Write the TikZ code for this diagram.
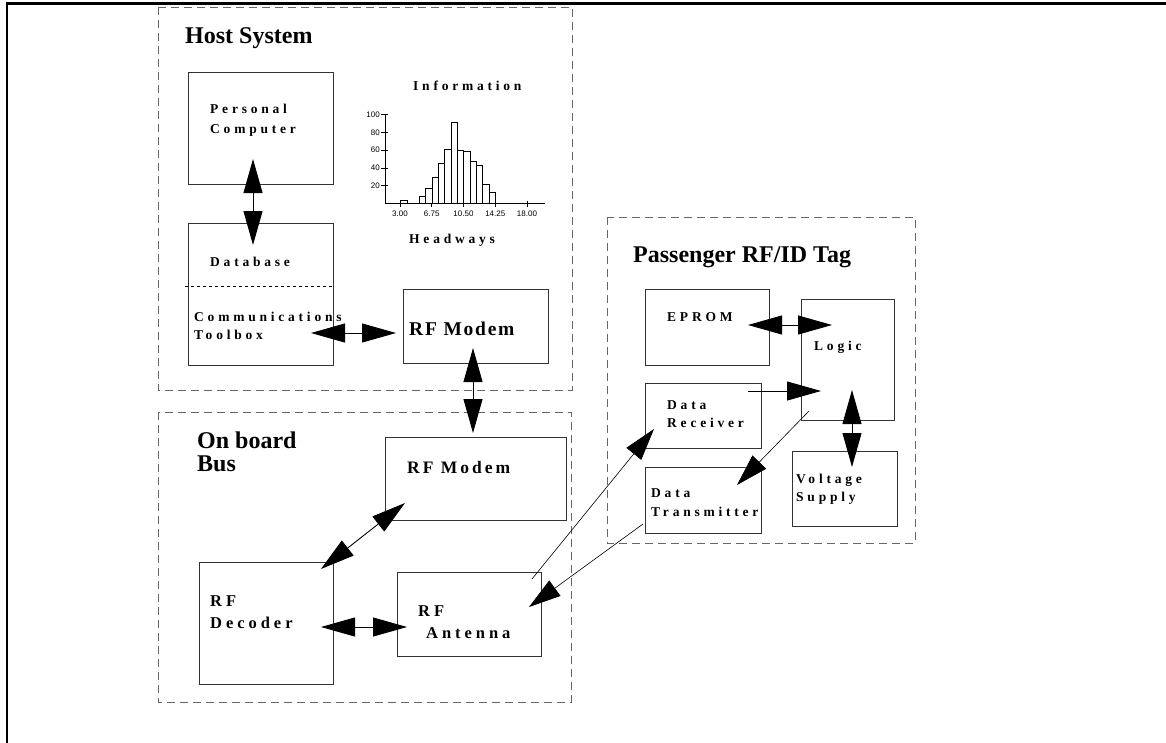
\documentclass[tikz,border=0pt]{standalone}
\usepackage{fontspec}
\setmainfont{Liberation Serif}
\newfontfamily\axisfont{Liberation Sans}
\usetikzlibrary{arrows.meta,calc}
\tikzset{
  outerframe/.style={line width=2.5pt, line cap=rect},
  group/.style={draw=black!60, dash pattern=on 8pt off 5pt, line width=0.9pt},
  blk/.style={draw=black!80, line width=0.9pt, inner sep=0pt, anchor=north west},
  bigtitle/.style={font=\fontsize{24}{22}\selectfont\bfseries, anchor=base west, inner sep=0pt},
  lbl/.style={font=\fontsize{13.5}{18}\selectfont\bfseries\addfontfeature{LetterSpace=28}, anchor=base west, inner sep=0pt},
  midlbl/.style={font=\fontsize{16.5}{20}\selectfont\bfseries\addfontfeature{LetterSpace=24}, anchor=base west, inner sep=0pt},
  modemlbl/.style={font=\fontsize{19.5}{22}\selectfont\bfseries\addfontfeature{LetterSpace=9}, anchor=base west, inner sep=0pt},
  modemlbltwo/.style={font=\fontsize{17.5}{22}\selectfont\bfseries\addfontfeature{LetterSpace=17}, anchor=base west, inner sep=0pt},
  tinylbl/.style={font=\axisfont\fontsize{8}{9}\selectfont, inner sep=0pt},
  dbl/.style={line width=0.9pt, {Triangle[length=34pt,width=19pt]}-{Triangle[length=34pt,width=19pt]}},
  sgl/.style={line width=0.9pt, -{Triangle[length=34pt,width=19pt]}},
  thinsgl/.style={line width=0.6pt, -{Triangle[length=32pt,width=19pt]}},
  bar/.style={draw=black, line width=0.8pt, fill=white},
}
\begin{document}
\begin{tikzpicture}[x=1pt,y=-1pt]
\useasboundingbox (0,0) rectangle (1166,742);
% outer frame (top and left)
\draw[outerframe] (1166,3.5) -- (7,3.5) -- (7,742);

% group boxes
\draw[group] (158,7) rectangle (572,390);
\draw[group] (158,412) rectangle (571,702);
\draw[group] (607,217) rectangle (915,543);

\node[bigtitle] (thost) at (185,43) {Host System};
\node[bigtitle] (tbus1) at (197,448) {On board};
\node[bigtitle] (tbus2) at (197,471) {Bus};
\node[bigtitle] (ttag) at (633,262) {Passenger RF/ID Tag};

% blocks
\node[blk, minimum width=145pt, minimum height=112pt] (pc) at (188,72) {};
\node[blk, minimum width=145pt, minimum height=142pt] (db) at (188,223) {};
\node[blk, minimum width=145pt, minimum height=74pt] (hmodem) at (403,289) {};
\node[blk, minimum width=181pt, minimum height=83pt] (bmodem) at (385,437) {};
\node[blk, minimum width=134pt, minimum height=122pt] (dec) at (199,562) {};
\node[blk, minimum width=144pt, minimum height=84pt] (ant) at (397,572) {};
\node[blk, minimum width=124pt, minimum height=76pt] (eprom) at (645,289) {};
\node[blk, minimum width=93pt, minimum height=121pt] (logic) at (801,299) {};
\node[blk, minimum width=116pt, minimum height=65pt] (recv) at (645,383) {};
\node[blk, minimum width=116pt, minimum height=66pt] (trans) at (645,467) {};
\node[blk, minimum width=105pt, minimum height=75pt] (volt) at (792,451) {};

% dotted divider in database box
\coordinate (dl) at (185,286);
\coordinate (dr) at (db.east |- dl);
\draw[line width=0.8pt, dash pattern=on 3pt off 3pt] (dl) -- (dr);

% labels
\node[lbl] (lpc1) at (210,113) {Personal};
\node[lbl] (lpc2) at (210,133) {Computer};
\node[lbl] (ldb) at (210,266) {Database};
\node[lbl] (lct1) at (194,321) {Communications};
\node[lbl] (lct2) at (194,339) {Toolbox};
\node[modemlbl] (lhm) at (409,335) {RF Modem};
\node[modemlbltwo] (lbm) at (407,473) {RF Modem};
\node[midlbl] (ldec1) at (210,606) {RF};
\node[midlbl] (ldec2) at (210,628) {Decoder};
\node[midlbl] (lant1) at (418,616) {RF};
\node[midlbl] (lant2) at (426,638) {Antenna};
\node[lbl] (lep) at (667,321) {EPROM};
\node[lbl] (llog) at (814,350) {Logic};
\node[lbl] (lrc1) at (667,409) {Data};
\node[lbl] (lrc2) at (667,427) {Receiver};
\node[lbl] (ltr1) at (651,497) {Data};
\node[lbl] (ltr2) at (651,516) {Transmitter};
\node[lbl] (lv1) at (796,483) {Voltage};
\node[lbl] (lv2) at (796,501) {Supply};

% histogram
\node[lbl] (linfo) at (413,90) {Information};
\node[lbl] (lhead) at (409,243) {Headways};
\draw[line width=0.9pt] (385,114) -- (385,203.5) -- (545,203.5);
\foreach \v in {20,40,60,80,100} {
  \draw[line width=0.7pt] (381,203.5-0.89*\v) -- (388,203.5-0.89*\v);
  \node[tinylbl, anchor=east] at (380,203.5-0.89*\v) {\v};
}
\foreach \x/\t in {400/3.00,431.7/6.75,463.5/10.50,495.3/14.25,527/18.00} {
  \draw[line width=0.7pt] (\x,200.5) -- (\x,206.5);
  \node[tinylbl] at (\x,213.5) {\t};
}
\draw[bar] (400,203.5) rectangle (407,203.5-0.89*3);
\foreach \h [count=\i from 0] in {8,17,29,45,61,91,60,58,47,43,22,12} {
  \draw[bar] (419.5+\i*6.32,203.5) rectangle (419.5+\i*6.32+6.32,203.5-0.89*\h);
}

% connector end points
\coordinate (a1s) at (253,159);  \coordinate (a1e) at (253,245);
\coordinate (a2s) at (311,333);  \coordinate (a2e) at (396,333);
\coordinate (a3s) at (473,348);  \coordinate (a3e) at (473,433);
\coordinate (a4s) at (405,503);  \coordinate (a4e) at (321,569);
\coordinate (a5s) at (321,627);  \coordinate (a5e) at (407,627);
\coordinate (a6s) at (748,325);  \coordinate (a6e) at (832,325);
\coordinate (a7s) at (748,391);  \coordinate (a7e) at (821,391);
\coordinate (a8s) at (852,390);  \coordinate (a8e) at (852,467);
\coordinate (a9s) at (809,411);  \coordinate (a9e) at (737,485);
\coordinate (a10s) at (532,579); \coordinate (a10e) at (654,429);
\coordinate (a11s) at (643,524); \coordinate (a11e) at (529,607);

\draw[dbl] (a1s) -- (a1e);
\draw[dbl] (a2s) -- (a2e);
\draw[dbl] (a3s) -- (a3e);
\draw[dbl] (a4s) -- (a4e);
\draw[dbl] (a5s) -- (a5e);
\draw[dbl] (a6s) -- (a6e);
\draw[sgl] (a7s) -- (a7e);
\draw[dbl] (a8s) -- (a8e);
\draw[thinsgl] (a9s) -- (a9e);
\draw[thinsgl] (a10s) -- (a10e);
\draw[thinsgl] (a11s) -- (a11e);
\end{tikzpicture}
\end{document}
